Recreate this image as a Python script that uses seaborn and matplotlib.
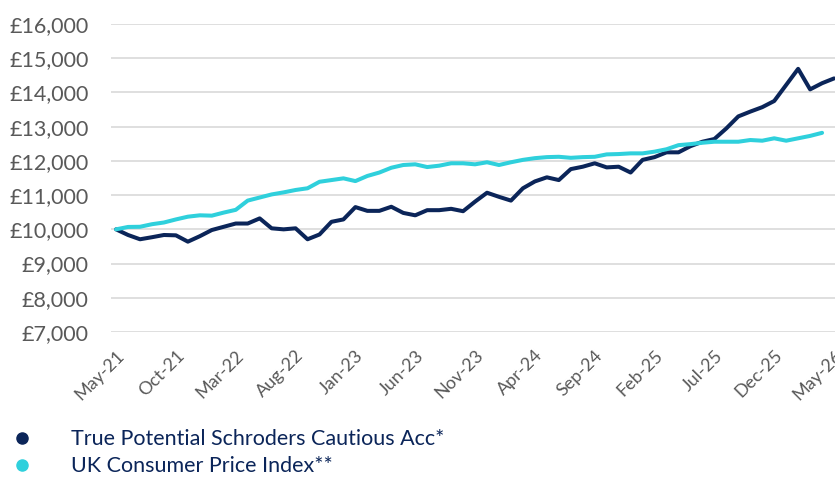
import pandas as pd
import numpy as np
import matplotlib.pyplot as plt
from matplotlib.lines import Line2D
import seaborn as sns

months = pd.date_range('2021-05-01', '2026-05-01', freq='MS')

fund = [10000, 9835, 9710, 9770, 9835, 9825, 9640, 9800, 9980, 10075,
        10170, 10170, 10320, 10030, 10000, 10030, 9710, 9850, 10220, 10290,
        10650, 10540, 10540, 10660, 10480, 10410, 10560, 10560, 10600, 10530,
        10810, 11070, 10950, 10840, 11200, 11400, 11520, 11440, 11760, 11830,
        11930, 11810, 11830, 11660, 12030, 12110, 12250, 12250, 12430, 12560,
        12640, 12950, 13300, 13440, 13570, 13750, 14220, 14690, 14090, 14270,
        14410]

cpi = [10000, 10070, 10075, 10150, 10200, 10290, 10370, 10410, 10400, 10490,
       10570, 10840, 10930, 11020, 11080, 11150, 11200, 11390, 11440, 11490,
       11410, 11560, 11660, 11800, 11880, 11900, 11820, 11860, 11930, 11930,
       11900, 11960, 11880, 11960, 12030, 12080, 12110, 12120, 12090, 12110,
       12120, 12190, 12200, 12220, 12220, 12270, 12340, 12460, 12490, 12530,
       12560, 12560, 12560, 12610, 12590, 12660, 12590, 12660, 12730, 12820,
       np.nan]

series_names = ['True Potential Schroders Cautious Acc*', 'UK Consumer Price Index**']
colors = ['#0b2559', '#2fd0dc']

y_ticks = list(range(7000, 16001, 1000))
x_tick_labels = [m.strftime('%b-%y') for m in months[::5]]

df = pd.DataFrame({
    'm': list(range(len(months))) * 2,
    'value': fund + cpi,
    'series': [series_names[0]] * len(months) + [series_names[1]] * len(months),
})

sns.set_theme(style='white')
plt.rcParams['font.family'] = ['Lato', 'DejaVu Sans']

fig = plt.figure(figsize=(8.35, 4.78), dpi=100)
ax = fig.add_axes([0.133, 0.3054, 0.867, 0.6444])

sns.lineplot(data=df, x='m', y='value', hue='series', palette=colors,
             hue_order=series_names, linewidth=2.9, ax=ax, legend=False)

ax.set_xlim(-0.42, 60.08)
ax.set_ylim(7000, 16000)
ax.set_yticks(y_ticks)
ax.set_yticklabels([f'£{v:,}' for v in y_ticks])
ax.set_xticks(range(0, len(months), 5))
ax.set_xticklabels(x_tick_labels, rotation=45, ha='right', rotation_mode='anchor')
ax.tick_params(axis='y', length=0, pad=16, labelsize=15.5, labelcolor='#595959')
ax.tick_params(axis='x', length=0, pad=11, labelsize=13, labelcolor='#595959')
ax.set_xlabel('')
ax.set_ylabel('')
ax.grid(axis='y', color='#d9d9d9', linewidth=1.2)
ax.set_axisbelow(True)
for s in ax.spines.values():
    s.set_visible(False)

handles = [Line2D([], [], linestyle='none', marker='o', markersize=8,
                  markerfacecolor=c, markeredgecolor=c) for c in colors]
fig.legend(handles, series_names, loc='upper left', bbox_to_anchor=(-0.003, 0.12),
           frameon=False, fontsize=15.5, labelcolor='#0b2559', handletextpad=1.5,
           labelspacing=0.33, borderaxespad=0, handlelength=1.5)

fig.savefig('out.png', dpi=100)
